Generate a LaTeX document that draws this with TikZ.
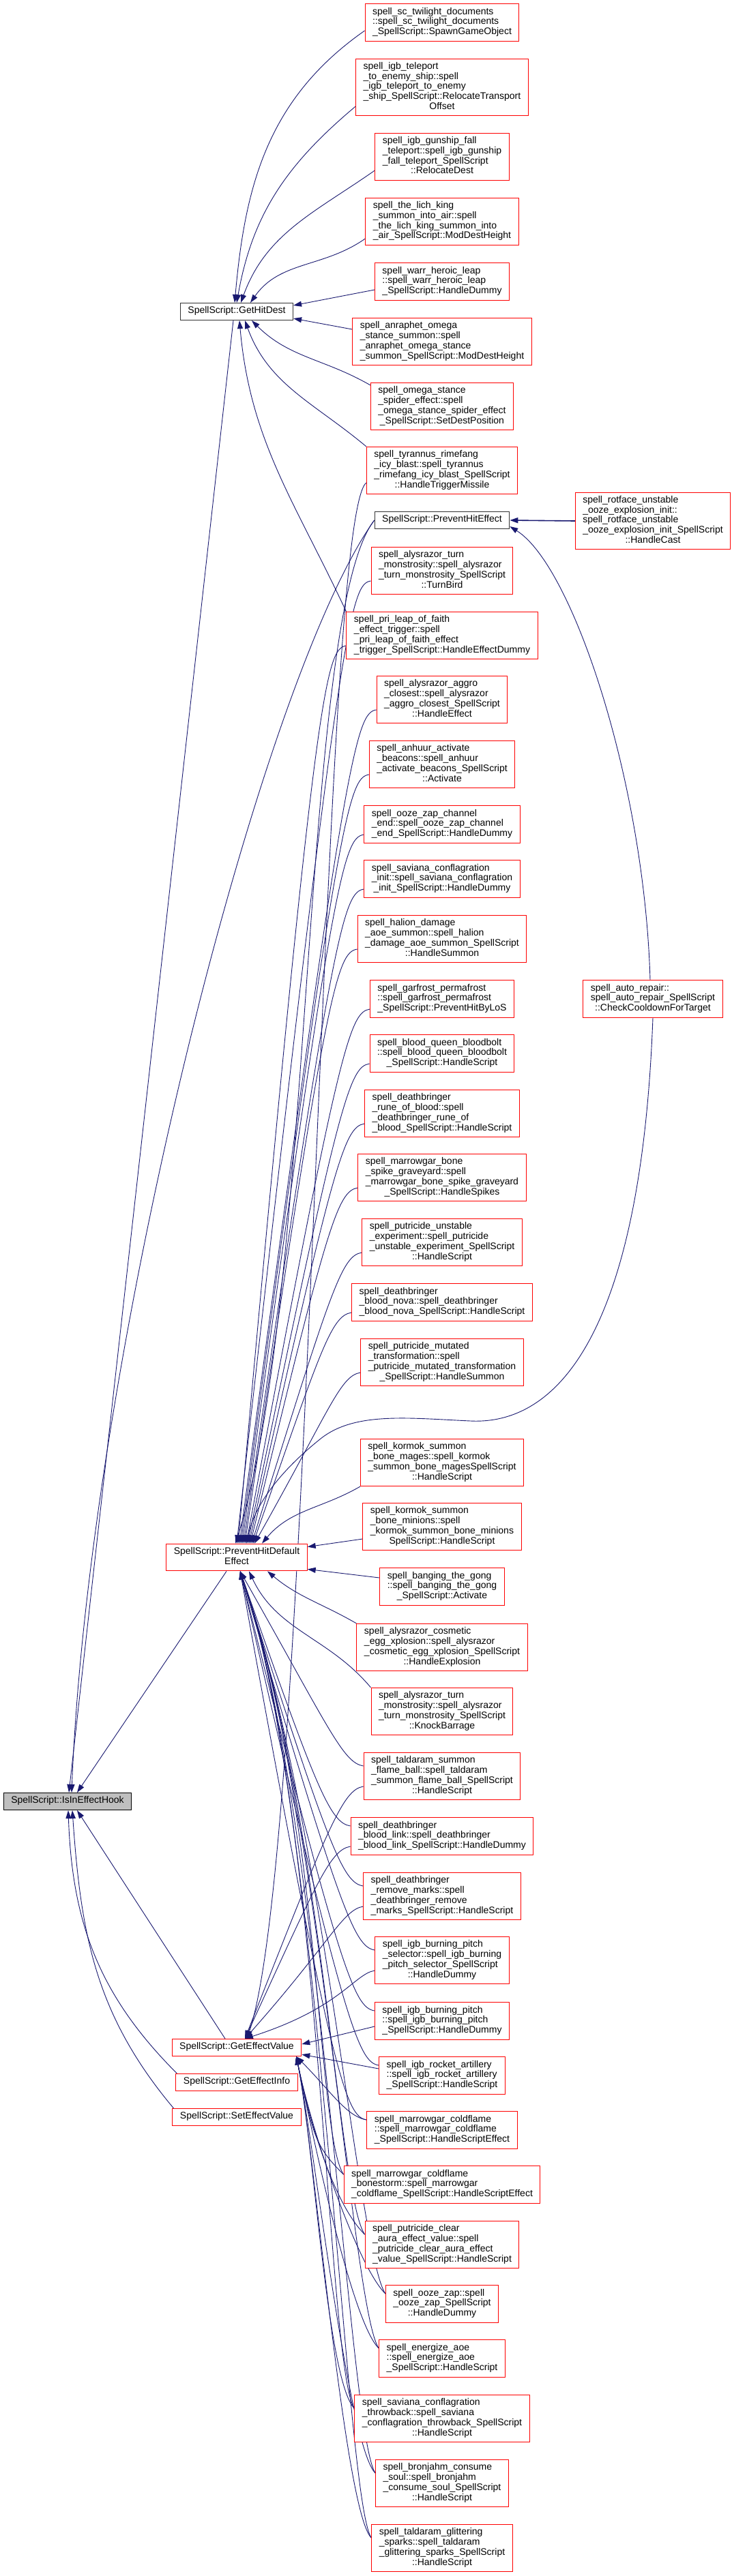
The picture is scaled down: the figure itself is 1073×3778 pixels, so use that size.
\documentclass[tikz,border=0pt]{standalone}
\usepackage{fontspec}
\setmainfont{Liberation Sans}
\usetikzlibrary{arrows.meta,backgrounds,calc}
\definecolor{edgeblue}{HTML}{191970}
\definecolor{truncred}{HTML}{FF0000}
% lines set flush left, the last one centred
\newcommand{\fnlines}[2]{\begin{tabular}{@{}l@{}}#1\\\multicolumn{1}{@{}c@{}}{#2}\end{tabular}}
\tikzset{
  fn/.style={draw=truncred, fill=white, line width=1pt, inner xsep=11pt, inner ysep=5.2pt,
    font=\fontsize{14}{14.7}\selectfont},
  fndoc/.style={fn, draw=black!80},
  fnroot/.style={fn, draw=black, fill=black!25},
  call/.style={draw=edgeblue, line width=0.9pt, -{Triangle[length=12pt,width=8pt]}},
}

\begin{document}
\begin{tikzpicture}[x=1pt, y=1pt]
  \useasboundingbox (0,0) rectangle (1073,-3778);
  % callees
  \node[fnroot] (hook) at (99,-2642) {\strut SpellScript::IsInEffectHook};
  \node[fndoc] (hitDest) at (347,-457) {\strut SpellScript::GetHitDest};
  \node[fn] (defaultEffect) at (347,-2284) {\fnlines{SpellScript::PreventHitDefault}{Effect}};
  \node[fn] (getValue) at (347,-3003) {\strut SpellScript::GetEffectValue};
  \node[fn] (getInfo) at (347,-3054) {\strut SpellScript::GetEffectInfo};
  \node[fn] (setValue) at (347,-3105) {\strut SpellScript::SetEffectValue};
  \node[fndoc] (hitEffect) at (648,-763) {\strut SpellScript::PreventHitEffect};
  \node[fn] (rotface) at (957,-764) {\fnlines{spell\_rotface\_unstable\\\_ooze\_explosion\_init::\\spell\_rotface\_unstable\\\_ooze\_explosion\_init\_SpellScript}{::HandleCast}};
  \node[fn] (autoRepair) at (957,-1465) {\fnlines{spell\_auto\_repair::\\spell\_auto\_repair\_SpellScript}{::CheckCooldownForTarget}};

  % callers
  \node[fn] (twilight) at (648,-33) {\fnlines{spell\_sc\_twilight\_documents\\::spell\_sc\_twilight\_documents}{\_SpellScript::SpawnGameObject}};
  \node[fn] (teleport) at (648,-128) {\fnlines{spell\_igb\_teleport\\\_to\_enemy\_ship::spell\\\_igb\_teleport\_to\_enemy\\\_ship\_SpellScript::RelocateTransport}{Offset}};
  \node[fn] (gunship) at (648,-230) {\fnlines{spell\_igb\_gunship\_fall\\\_teleport::spell\_igb\_gunship\\\_fall\_teleport\_SpellScript}{::RelocateDest}};
  \node[fn] (lichKing) at (648,-325) {\fnlines{spell\_the\_lich\_king\\\_summon\_into\_air::spell\\\_the\_lich\_king\_summon\_into}{\_air\_SpellScript::ModDestHeight}};
  \node[fn] (heroicLeap) at (648,-413) {\fnlines{spell\_warr\_heroic\_leap\\::spell\_warr\_heroic\_leap}{\_SpellScript::HandleDummy}};
  \node[fn] (anraphet) at (648,-501) {\fnlines{spell\_anraphet\_omega\\\_stance\_summon::spell\\\_anraphet\_omega\_stance}{\_summon\_SpellScript::ModDestHeight}};
  \node[fn] (omegaSpider) at (648,-596) {\fnlines{spell\_omega\_stance\\\_spider\_effect::spell\\\_omega\_stance\_spider\_effect}{\_SpellScript::SetDestPosition}};
  \node[fn] (tyrannus) at (648,-690) {\fnlines{spell\_tyrannus\_rimefang\\\_icy\_blast::spell\_tyrannus\\\_rimefang\_icy\_blast\_SpellScript}{::HandleTriggerMissile}};
  \node[fn] (turnBird) at (648,-837) {\fnlines{spell\_alysrazor\_turn\\\_monstrosity::spell\_alysrazor\\\_turn\_monstrosity\_SpellScript}{::TurnBird}};
  \node[fn] (leapOfFaith) at (648,-932) {\fnlines{spell\_pri\_leap\_of\_faith\\\_effect\_trigger::spell\\\_pri\_leap\_of\_faith\_effect}{\_trigger\_SpellScript::HandleEffectDummy}};
  \node[fn] (aggroClosest) at (648,-1026) {\fnlines{spell\_alysrazor\_aggro\\\_closest::spell\_alysrazor\\\_aggro\_closest\_SpellScript}{::HandleEffect}};
  \node[fn] (anhuur) at (648,-1121) {\fnlines{spell\_anhuur\_activate\\\_beacons::spell\_anhuur\\\_activate\_beacons\_SpellScript}{::Activate}};
  \node[fn] (oozeZapChannel) at (648,-1209) {\fnlines{spell\_ooze\_zap\_channel\\\_end::spell\_ooze\_zap\_channel}{\_end\_SpellScript::HandleDummy}};
  \node[fn] (savianaInit) at (648,-1289) {\fnlines{spell\_saviana\_conflagration\\\_init::spell\_saviana\_conflagration}{\_init\_SpellScript::HandleDummy}};
  \node[fn] (halion) at (648,-1377) {\fnlines{spell\_halion\_damage\\\_aoe\_summon::spell\_halion\\\_damage\_aoe\_summon\_SpellScript}{::HandleSummon}};
  \node[fn] (garfrost) at (648,-1465) {\fnlines{spell\_garfrost\_permafrost\\::spell\_garfrost\_permafrost}{\_SpellScript::PreventHitByLoS}};
  \node[fn] (bloodQueen) at (648,-1545) {\fnlines{spell\_blood\_queen\_bloodbolt\\::spell\_blood\_queen\_bloodbolt}{\_SpellScript::HandleScript}};
  \node[fn] (runeOfBlood) at (648,-1633) {\fnlines{spell\_deathbringer\\\_rune\_of\_blood::spell\\\_deathbringer\_rune\_of}{\_blood\_SpellScript::HandleScript}};
  \node[fn] (boneSpike) at (648,-1727) {\fnlines{spell\_marrowgar\_bone\\\_spike\_graveyard::spell\\\_marrowgar\_bone\_spike\_graveyard}{\_SpellScript::HandleSpikes}};
  \node[fn] (unstableExp) at (648,-1822) {\fnlines{spell\_putricide\_unstable\\\_experiment::spell\_putricide\\\_unstable\_experiment\_SpellScript}{::HandleScript}};
  \node[fn] (bloodNova) at (648,-1910) {\fnlines{spell\_deathbringer\\\_blood\_nova::spell\_deathbringer}{\_blood\_nova\_SpellScript::HandleScript}};
  \node[fn] (mutatedTrans) at (648,-1998) {\fnlines{spell\_putricide\_mutated\\\_transformation::spell\\\_putricide\_mutated\_transformation}{\_SpellScript::HandleSummon}};
  \node[fn] (kormokMages) at (648,-2145) {\fnlines{spell\_kormok\_summon\\\_bone\_mages::spell\_kormok\\\_summon\_bone\_magesSpellScript}{::HandleScript}};
  \node[fn] (kormokMinions) at (648,-2239) {\fnlines{spell\_kormok\_summon\\\_bone\_minions::spell\\\_kormok\_summon\_bone\_minions}{SpellScript::HandleScript}};
  \node[fn] (gong) at (648,-2327) {\fnlines{spell\_banging\_the\_gong\\::spell\_banging\_the\_gong}{\_SpellScript::Activate}};
  \node[fn] (eggXplosion) at (648,-2416) {\fnlines{spell\_alysrazor\_cosmetic\\\_egg\_xplosion::spell\_alysrazor\\\_cosmetic\_egg\_xplosion\_SpellScript}{::HandleExplosion}};
  \node[fn] (knockBarrage) at (648,-2510) {\fnlines{spell\_alysrazor\_turn\\\_monstrosity::spell\_alysrazor\\\_turn\_monstrosity\_SpellScript}{::KnockBarrage}};
  \node[fn] (flameBall) at (648,-2605) {\fnlines{spell\_taldaram\_summon\\\_flame\_ball::spell\_taldaram\\\_summon\_flame\_ball\_SpellScript}{::HandleScript}};
  \node[fn] (bloodLink) at (648,-2693) {\fnlines{spell\_deathbringer\\\_blood\_link::spell\_deathbringer}{\_blood\_link\_SpellScript::HandleDummy}};
  \node[fn] (removeMarks) at (648,-2781) {\fnlines{spell\_deathbringer\\\_remove\_marks::spell\\\_deathbringer\_remove}{\_marks\_SpellScript::HandleScript}};
  \node[fn] (pitchSelector) at (648,-2875) {\fnlines{spell\_igb\_burning\_pitch\\\_selector::spell\_igb\_burning\\\_pitch\_selector\_SpellScript}{::HandleDummy}};
  \node[fn] (burningPitch) at (648,-2964) {\fnlines{spell\_igb\_burning\_pitch\\::spell\_igb\_burning\_pitch}{\_SpellScript::HandleDummy}};
  \node[fn] (rocketArtillery) at (648,-3044) {\fnlines{spell\_igb\_rocket\_artillery\\::spell\_igb\_rocket\_artillery}{\_SpellScript::HandleScript}};
  \node[fn] (coldflame) at (648,-3124) {\fnlines{spell\_marrowgar\_coldflame\\::spell\_marrowgar\_coldflame}{\_SpellScript::HandleScriptEffect}};
  \node[fn] (bonestorm) at (648,-3204) {\fnlines{spell\_marrowgar\_coldflame\\\_bonestorm::spell\_marrowgar}{\_coldflame\_SpellScript::HandleScriptEffect}};
  \node[fn] (clearAura) at (648,-3292) {\fnlines{spell\_putricide\_clear\\\_aura\_effect\_value::spell\\\_putricide\_clear\_aura\_effect}{\_value\_SpellScript::HandleScript}};
  \node[fn] (oozeZap) at (648,-3379) {\fnlines{spell\_ooze\_zap::spell\\\_ooze\_zap\_SpellScript}{::HandleDummy}};
  \node[fn] (energize) at (648,-3459) {\fnlines{spell\_energize\_aoe\\::spell\_energize\_aoe}{\_SpellScript::HandleScript}};
  \node[fn] (throwback) at (648,-3547) {\fnlines{spell\_saviana\_conflagration\\\_throwback::spell\_saviana\\\_conflagration\_throwback\_SpellScript}{::HandleScript}};
  \node[fn] (bronjahm) at (648,-3642) {\fnlines{spell\_bronjahm\_consume\\\_soul::spell\_bronjahm\\\_consume\_soul\_SpellScript}{::HandleScript}};
  \node[fn] (glittering) at (648,-3737) {\fnlines{spell\_taldaram\_glittering\\\_sparks::spell\_taldaram\\\_glittering\_sparks\_SpellScript}{::HandleScript}};

  \begin{scope}[on background layer]
    % into IsInEffectHook
    \draw[call] ([xshift=-5pt]hitDest.south) -- ([xshift=2pt]hook.north);
    \draw[call] (hitEffect.west) .. controls (380,-1000) and (130,-2000) .. ([xshift=6pt]hook.north);
    \draw[call] ([xshift=-15pt]defaultEffect.south) -- ([xshift=14pt]hook.north);
    \draw[call] ([xshift=-17pt]getValue.north) -- ([xshift=14pt]hook.south);
    \draw[call] ([xshift=2pt]getInfo.north west) to[out=135,in=-88] ([xshift=1pt]hook.south);
    \draw[call] ([xshift=2pt]setValue.north west) to[out=130,in=-86] ([xshift=7pt]hook.south);
    % into GetHitDest
    \draw[call] ([yshift=-12pt]twilight.west) to[out=215,in=85] ([xshift=-3pt]hitDest.north);
    \draw[call] ([yshift=-28pt]teleport.west) to[out=220,in=80] (hitDest.north);
    \draw[call] ([yshift=-20pt]gunship.west) to[out=215,in=70] ([xshift=6pt]hitDest.north);
    \draw[call] ([yshift=-25pt]lichKing.west) to[out=215,in=55] ([xshift=20pt]hitDest.north);
    \draw[call] ([yshift=-12pt]heroicLeap.west) -- ([yshift=-4pt]hitDest.north east);
    \draw[call] ([yshift=18pt]anraphet.west) -- ([yshift=3pt]hitDest.south east);
    \draw[call] ([yshift=-4pt]omegaSpider.north west) to[out=150,in=-45] ([xshift=22pt]hitDest.south);
    \draw[call] (tyrannus.north west) to[out=140,in=-70] ([xshift=12pt]hitDest.south);
    \draw[call] (leapOfFaith.north west) to[out=115,in=-85] ([xshift=4pt]hitDest.south);
    % into PreventHitEffect
    \draw[call, line width=1.6pt] (rotface.west) -- (hitEffect.east);
    \draw[call] ([xshift=-4pt]autoRepair.north) .. controls (945,-1150) and (840,-830) .. ([yshift=-9pt]hitEffect.east);
    % into PreventHitDefaultEffect
    \draw[call] (hitEffect.west) .. controls (440,-900) and (462,-1900) .. ([xshift=-2pt]defaultEffect.north);
    \draw[call] (autoRepair.south) .. controls (940,-1950) and (820,-2090) .. (690,-2084)
      .. controls (600,-2080) and (520,-2070) .. (470,-2110)
      .. controls (420,-2150) and (375,-2200) .. ([xshift=14pt]defaultEffect.north);
    \foreach \n/\dx in {turnBird/0, leapOfFaith/2, aggroClosest/4, anhuur/6, oozeZapChannel/8,
        savianaInit/10, halion/12, garfrost/14, bloodQueen/16, runeOfBlood/18, boneSpike/20,
        unstableExp/22, bloodNova/24, mutatedTrans/26}
      \draw[call] ([yshift=-15pt]\n.west) .. controls +(-30,-5) and ($(\n.west)+(-45,-70)$)
        .. ([xshift=\dx pt]defaultEffect.north);
    \draw[call] (kormokMages.south west) to[out=210,in=50] ([xshift=37pt]defaultEffect.north);
    \draw[call] ([yshift=-18pt]kormokMinions.west) -- ([yshift=-5pt]defaultEffect.north east);
    \draw[call] ([yshift=13pt]gong.west) -- ([yshift=3pt]defaultEffect.south east);
    \draw[call] (eggXplosion.north west) to[out=150,in=-40] ([xshift=45pt]defaultEffect.south);
    \draw[call] (knockBarrage.north west) to[out=130,in=-65] ([xshift=18pt]defaultEffect.south);
    \foreach \n in {flameBall, bloodLink, removeMarks, pitchSelector, burningPitch, rocketArtillery, coldflame}
      \draw[call] ([yshift=15pt]\n.west) .. controls +(-30,5) and ($(\n.west)+(-50,70)$)
        .. ([xshift=5pt]defaultEffect.south);
    \foreach \n in {bonestorm, clearAura, oozeZap, energize, throwback, bronjahm, glittering}
      \draw[call] ([yshift=15pt]\n.west) .. controls +(-40,60) and +(120,-350)
        .. ([xshift=5pt]defaultEffect.south);
    % into GetEffectValue
    \draw[call] ([yshift=-18pt]tyrannus.west) .. controls (470,-760) and (458,-2700) .. ([xshift=15pt]getValue.north);
    \foreach \n in {flameBall, bloodLink, removeMarks, pitchSelector}
      \draw[call] ([yshift=-15pt]\n.west) .. controls +(-30,-5) and ($(\n.west)+(-50,-70)$)
        .. ([xshift=12pt]getValue.north);
    \draw[call] ([yshift=-8pt]burningPitch.west) -- ([yshift=5pt]getValue.east);
    \draw[call] ([yshift=10pt]rocketArtillery.west) -- ([yshift=3pt]getValue.south east);
    \draw[call] ([yshift=15pt]coldflame.west) .. controls +(-30,5) and ($(coldflame.west)+(-55,60)$)
      .. ([xshift=-8pt]getValue.south east);
    \foreach \n in {bonestorm, clearAura, oozeZap, energize, throwback, bronjahm, glittering}
      \draw[call] ([yshift=15pt]\n.west) .. controls +(-40,40) and +(25,-120)
        .. ([xshift=-8pt]getValue.south east);
  \end{scope}
\end{tikzpicture}
\end{document}
